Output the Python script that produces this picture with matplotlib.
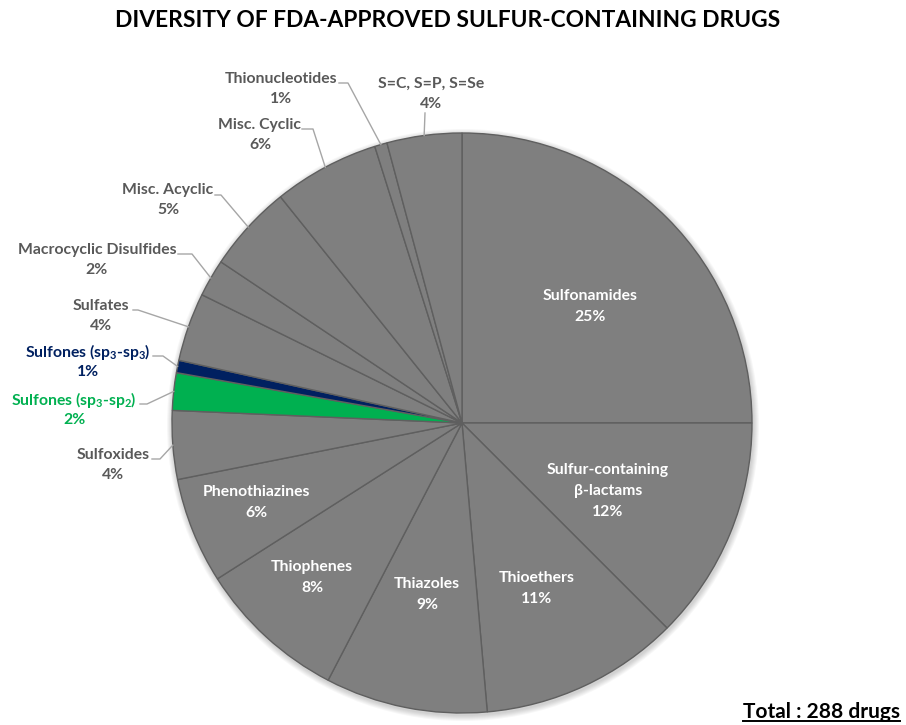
import matplotlib.pyplot as plt
from matplotlib.patches import Circle
import numpy as np

plt.rcParams['font.family'] = ['Lato', 'DejaVu Sans']
plt.rcParams['mathtext.fontset'] = 'custom'
plt.rcParams['mathtext.rm'] = 'Lato:bold'
plt.rcParams['mathtext.default'] = 'rm'

# drug counts per sulfur class, clockwise from 12 o'clock
classes = ['Sulfonamides', 'Sulfur-containing\nβ-lactams', 'Thioethers', 'Thiazoles',
           'Thiophenes', 'Phenothiazines', 'Sulfoxides', r'Sulfones (sp$_3$-sp$_2$)',
           r'Sulfones (sp$_3$-sp$_3$)', 'Sulfates', 'Macrocyclic Disulfides', 'Misc. Acyclic',
           'Misc. Cyclic', 'Thionucleotides', 'S=C, S=P, S=Se']
counts = [72, 36, 32, 26, 24, 17, 11, 6, 2, 11, 6, 14, 17, 2, 12]
total = sum(counts)

GRAY = '#7f7f7f'
TXT = '#595959'
colors = [GRAY] * len(counts)
colors[7] = '#00b050'
colors[8] = '#002060'
label_colors = [TXT] * len(counts)
label_colors[7] = '#00b050'
label_colors[8] = '#002060'

W, H = 906, 725
cx, cy, R = 462, H - 423, 290

fig = plt.figure(figsize=(W / 100, H / 100), dpi=100)
ax = fig.add_axes([0, 0, 1, 1])

# soft halo around the pie
for i in range(1, 7):
    ax.add_patch(Circle((cx + 1, cy - 2), R + i, fc='k', ec='none', alpha=0.03, zorder=0))

wedges, _ = ax.pie(counts, colors=colors, startangle=90, counterclock=False,
                   center=(cx, cy), radius=R,
                   wedgeprops=dict(edgecolor='#5f5f5f', linewidth=1))
ax.set_xlim(0, W)
ax.set_ylim(0, H)
ax.set_aspect('equal')
ax.axis('off')

pct = [f'{100 * c / total:.0f}%' for c in counts]

# labels inside the wedges: (x, y of first line) in pixels from top-left
inside = {0: (590, 296), 1: (608, 470), 2: (537, 578), 3: (427, 584),
          4: (312, 567), 5: (256, 492)}
fs = 11.3
for i, (x, y) in inside.items():
    lines = classes[i].split('\n') + [pct[i]]
    for k, s in enumerate(lines):
        ax.text(x, H - (y + 21 * k), s, ha='center', va='center', color='white',
                fontsize=fs, fontweight='bold')

# labels outside: text position, leader tick (x0, x1, y)
outside = {
    6: ((113, 455), (152, 160, 459)),
    7: ((74, 400), (140, 147, 404)),
    8: ((88, 352), (153, 163, 356)),
    9: ((101, 306), (133, 138, 310)),
    10: ((97, 250), (178, 192, 254)),
    11: ((168, 190), (215, 221, 195)),
    12: ((260, 125), (302, 313, 129)),
    13: ((281, 79), (339, 348, 83)),
    14: ((431, 84), None),
}
for i, ((x, y), tick) in outside.items():
    ax.text(x, H - y, classes[i], ha='center', va='center', color=label_colors[i],
            fontsize=fs, fontweight='bold')
    ax.text(x, H - y - 20, pct[i], ha='center', va='center', color=label_colors[i],
            fontsize=fs, fontweight='bold')
    w = wedges[i]
    mid = np.deg2rad((w.theta1 + w.theta2) / 2)
    ex, ey = cx + R * np.cos(mid), cy + R * np.sin(mid)
    if tick is None:
        px, py = [x - 6, ex], [H - y - 29, ey]
    else:
        x0, x1, ty = tick
        px, py = [x0, x1, ex], [H - ty, H - ty, ey]
    ax.plot(px, py, color='#a6a6a6', lw=1, zorder=3)

ax.text(448, H - 20, 'DIVERSITY OF FDA-APPROVED SULFUR-CONTAINING DRUGS', ha='center',
        va='center', fontsize=16.4, fontweight='bold', color='black')

tot = ax.text(900, H - 712, f'Total : {total} drugs', ha='right', va='center',
              fontsize=15, fontweight='bold', color='black')
fig.canvas.draw()
bb = tot.get_window_extent().transformed(ax.transData.inverted())
ax.plot([bb.x0, bb.x1], [bb.y0 + 1, bb.y0 + 1], color='black', lw=1.4)

fig.savefig('out.png', dpi=100)
